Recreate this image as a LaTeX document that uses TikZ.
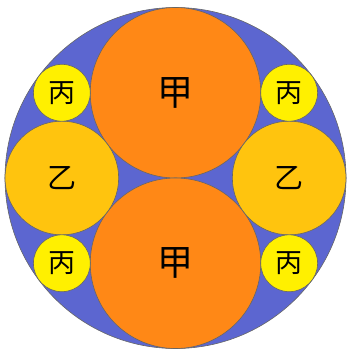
\documentclass[tikz,border=0pt]{standalone}
\usepackage{fontspec}
\usetikzlibrary{calc}
\newfontfamily\cjk{Noto Sans CJK SC}
\definecolor{bgblue}{RGB}{92,102,208}
\definecolor{jiaorange}{RGB}{255,136,22}
\definecolor{yigold}{RGB}{255,196,14}
\definecolor{bingyellow}{RGB}{255,240,0}
\tikzset{
	disc/.style={circle, draw=black!60, line width=.6pt, inner sep=0pt},
}
\begin{document}
\begin{tikzpicture}[x=1pt, y=-1pt]
		\useasboundingbox (0,0) rectangle (350,349);
		\def\R{170.5}
		\coordinate (O) at (175.5,178);
		\node[disc, fill=bgblue, minimum size=2*\R] (outer) at (O) {};
		% 甲: two halves
		\foreach \s [count = \i] in {-1, 1}{
			\node[disc, fill=jiaorange, minimum size=\R,
				font=\cjk\fontsize{36}{36}\selectfont]
				(jia\i) at ($(O) + (0, \s*\R/2)$) {甲};
		}
		% 乙: left and right
		\foreach \s [count = \i] in {-1, 1}{
			\node[disc, fill=yigold, minimum size=2*\R/3,
				font=\cjk\fontsize{29}{29}\selectfont]
				(yi\i) at ($(O) + (\s*2*\R/3, 0)$) {\raisebox{-3pt}{乙}};
		}
		% 丙: four corners
		\foreach \sx/\sy [count = \i] in {-1/-1, 1/-1, -1/1, 1/1}{
			\node[disc, fill=bingyellow, minimum size=\R/3,
				font=\cjk\fontsize{27}{27}\selectfont]
				(bing\i) at ($(O) + (\sx*2*\R/3, \sy*\R/2)$) {丙};
		}
	\end{tikzpicture}
\end{document}
